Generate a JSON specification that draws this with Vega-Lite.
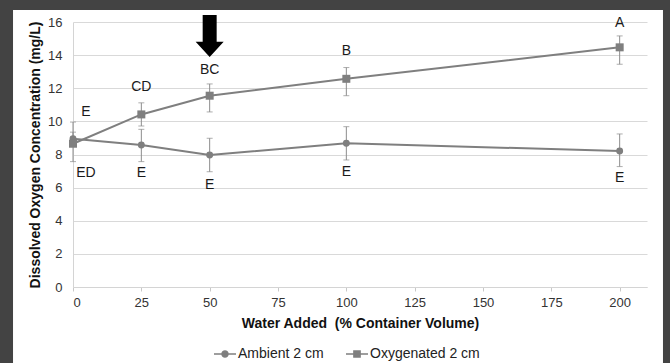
{
  "$schema": "https://vega.github.io/schema/vega-lite/v6.json",
  "width": 574,
  "height": 265,
  "autosize": {"type": "none"},
  "padding": {"left": 73, "top": 22, "right": 23, "bottom": 76},
  "config": {
    "font": "Liberation Sans",
    "view": {"stroke": null},
    "axis": {
      "domainColor": "#d4d4d4",
      "gridColor": "#d9d9d9",
      "tickColor": "#c8c8c8",
      "labelColor": "#333333",
      "labelFontSize": 13,
      "labelOverlap": false,
      "titleFontSize": 14,
      "titleFontWeight": "bold",
      "titleColor": "#111111"
    },
    "legend": {
      "labelFontSize": 14,
      "labelColor": "#222222"
    }
  },
  "datasets": {
    "obs": [
      {"series": "Ambient 2 cm", "added": 0, "do": 8.95, "lo": 8.55, "hi": 9.35},
      {"series": "Ambient 2 cm", "added": 25, "do": 8.57, "lo": 7.57, "hi": 9.52},
      {"series": "Ambient 2 cm", "added": 50, "do": 7.97, "lo": 6.96, "hi": 8.98},
      {"series": "Ambient 2 cm", "added": 100, "do": 8.68, "lo": 7.67, "hi": 9.68},
      {"series": "Ambient 2 cm", "added": 200, "do": 8.21, "lo": 7.27, "hi": 9.24},
      {"series": "Oxygenated 2 cm", "added": 0, "do": 8.65, "lo": 7.57, "hi": 9.96},
      {"series": "Oxygenated 2 cm", "added": 25, "do": 10.42, "lo": 9.72, "hi": 11.12},
      {"series": "Oxygenated 2 cm", "added": 50, "do": 11.55, "lo": 10.57, "hi": 12.26},
      {"series": "Oxygenated 2 cm", "added": 100, "do": 12.57, "lo": 11.55, "hi": 13.25},
      {"series": "Oxygenated 2 cm", "added": 200, "do": 14.47, "lo": 13.45, "hi": 15.16}
    ],
    "letters": [
      {"lx": 4.7, "ly": 10.54, "txt": "E"},
      {"lx": 4.7, "ly": 6.88, "txt": "ED"},
      {"lx": 25, "ly": 6.88, "txt": "E"},
      {"lx": 50, "ly": 6.16, "txt": "E"},
      {"lx": 100, "ly": 6.94, "txt": "E"},
      {"lx": 200, "ly": 6.58, "txt": "E"},
      {"lx": 25, "ly": 12.08, "txt": "CD"},
      {"lx": 50, "ly": 13.12, "txt": "BC"},
      {"lx": 100, "ly": 14.22, "txt": "B"},
      {"lx": 200, "ly": 15.92, "txt": "A"}
    ],
    "arrow": [{"ax": 50, "ay": 15.16}],
    "frame": [{"part": "border"}]
  },
  "layer": [
    {
      "data": {"name": "obs"},
      "mark": {"type": "errorbar", "ticks": {"size": 6, "color": "#8c8c8c"}, "color": "#8c8c8c", "thickness": 1},
      "encoding": {
        "x": {
          "field": "added", "type": "quantitative",
          "scale": {"domain": [0, 210], "nice": false},
          "axis": {
            "values": [0, 25, 50, 75, 100, 125, 150, 175, 200],
            "grid": false, "tickSize": 4, "labelPadding": 5,
            "title": "Water Added\u00a0 (% Container Volume)", "titlePadding": 7
          }
        },
        "y": {
          "field": "lo", "type": "quantitative",
          "scale": {"domain": [0, 16], "nice": false},
          "axis": {
            "values": [0, 2, 4, 6, 8, 10, 12, 14, 16],
            "ticks": false, "tickSize": 0, "labelPadding": 11,
            "title": "Dissolved Oxygen Concentration (mg/L)", "titlePadding": 5
          }
        },
        "y2": {"field": "hi"},
        "detail": {"field": "series"}
      }
    },
    {
      "data": {"name": "obs"},
      "mark": {"type": "line", "strokeWidth": 2},
      "encoding": {
        "x": {"field": "added", "type": "quantitative",
          "axis": {
            "values": [0, 25, 50, 75, 100, 125, 150, 175, 200],
            "grid": false, "tickSize": 4, "labelPadding": 5,
            "title": "Water Added\u00a0 (% Container Volume)", "titlePadding": 7
          }},
        "y": {
          "field": "do", "type": "quantitative",
          "axis": {
            "values": [0, 2, 4, 6, 8, 10, 12, 14, 16],
            "ticks": false, "tickSize": 0, "labelPadding": 11,
            "title": "Dissolved Oxygen Concentration (mg/L)", "titlePadding": 5
          }
        },
        "color": {
          "field": "series", "type": "nominal",
          "scale": {"range": ["#7f7f7f", "#7f7f7f"]},
          "legend": {
            "orient": "none", "legendX": 140, "legendY": 320,
            "direction": "horizontal", "title": null,
            "symbolSize": 484, "labelOffset": 1, "columnPadding": 19,
            "symbolType": "circle",
            "encode": {
              "symbols": {
                "update": {
                  "shape": {"signal": "datum.value === 'Ambient 2 cm' ? 'M-1,0L1,0M-0.27,0A0.27,0.27 0 1,0 0.27,0A0.27,0.27 0 1,0 -0.27,0Z' : 'M-1,0L1,0M-0.28,-0.28L0.28,-0.28L0.28,0.28L-0.28,0.28Z'"},
                  "fill": {"value": "#7f7f7f"},
                  "stroke": {"value": "#7f7f7f"},
                  "strokeWidth": {"value": 1.5},
                  "opacity": {"value": 1}
                }
              }
            }
          }
        }
      }
    },
    {
      "data": {"name": "obs"},
      "mark": {"type": "point", "filled": true, "opacity": 1},
      "encoding": {
        "x": {"field": "added", "type": "quantitative",
          "axis": {
            "values": [0, 25, 50, 75, 100, 125, 150, 175, 200],
            "grid": false, "tickSize": 4, "labelPadding": 5,
            "title": "Water Added\u00a0 (% Container Volume)", "titlePadding": 7
          }},
        "y": {
          "field": "do", "type": "quantitative",
          "axis": {
            "values": [0, 2, 4, 6, 8, 10, 12, 14, 16],
            "ticks": false, "tickSize": 0, "labelPadding": 11,
            "title": "Dissolved Oxygen Concentration (mg/L)", "titlePadding": 5
          }
        },
        "shape": {"field": "series", "type": "nominal", "scale": {"range": ["circle", "square"]}, "legend": null},
        "size": {"field": "series", "type": "nominal", "scale": {"range": [48, 64]}, "legend": null},
        "color": {"field": "series", "type": "nominal"}
      }
    },
    {
      "data": {"name": "letters"},
      "mark": {"type": "text", "fontSize": 14, "color": "#1a1a1a", "baseline": "middle", "align": "center"},
      "encoding": {
        "x": {"field": "lx", "type": "quantitative",
          "axis": {
            "values": [0, 25, 50, 75, 100, 125, 150, 175, 200],
            "grid": false, "tickSize": 4, "labelPadding": 5,
            "title": "Water Added\u00a0 (% Container Volume)", "titlePadding": 7
          }},
        "y": {"field": "ly", "type": "quantitative",
          "axis": {
            "values": [0, 2, 4, 6, 8, 10, 12, 14, 16],
            "ticks": false, "tickSize": 0, "labelPadding": 11,
            "title": "Dissolved Oxygen Concentration (mg/L)", "titlePadding": 5
          }},
        "text": {"field": "txt"}
      }
    },
    {
      "data": {"name": "arrow"},
      "mark": {"type": "point", "filled": true, "color": "#000000", "opacity": 1, "strokeWidth": 0,
        "shape": "M-0.333,-1L0.333,-1L0.333,0.28L0.667,0.28L0,1L-0.667,0.28L-0.333,0.28Z", "size": 1764},
      "encoding": {
        "x": {"field": "ax", "type": "quantitative",
          "axis": {
            "values": [0, 25, 50, 75, 100, 125, 150, 175, 200],
            "grid": false, "tickSize": 4, "labelPadding": 5,
            "title": "Water Added\u00a0 (% Container Volume)", "titlePadding": 7
          }},
        "y": {"field": "ay", "type": "quantitative",
          "axis": {
            "values": [0, 2, 4, 6, 8, 10, 12, 14, 16],
            "ticks": false, "tickSize": 0, "labelPadding": 11,
            "title": "Dissolved Oxygen Concentration (mg/L)", "titlePadding": 5
          }}
      }
    },
    {
      "data": {"name": "frame"},
      "mark": {"type": "rect", "fillOpacity": 0, "stroke": "#434343", "strokeWidth": 26, "clip": false},
      "encoding": {
        "x": {"datum": -26.7,
          "axis": {
            "values": [0, 25, 50, 75, 100, 125, 150, 175, 200],
            "grid": false, "tickSize": 4, "labelPadding": 5,
            "title": "Water Added\u00a0 (% Container Volume)", "titlePadding": 7
          }},
        "x2": {"datum": 220.6},
        "y": {"datum": 17.51,
          "axis": {
            "values": [0, 2, 4, 6, 8, 10, 12, 14, 16],
            "ticks": false, "tickSize": 0, "labelPadding": 11,
            "title": "Dissolved Oxygen Concentration (mg/L)", "titlePadding": 5
          }},
        "y2": {"datum": -6.2}
      }
    }
  ]
}
